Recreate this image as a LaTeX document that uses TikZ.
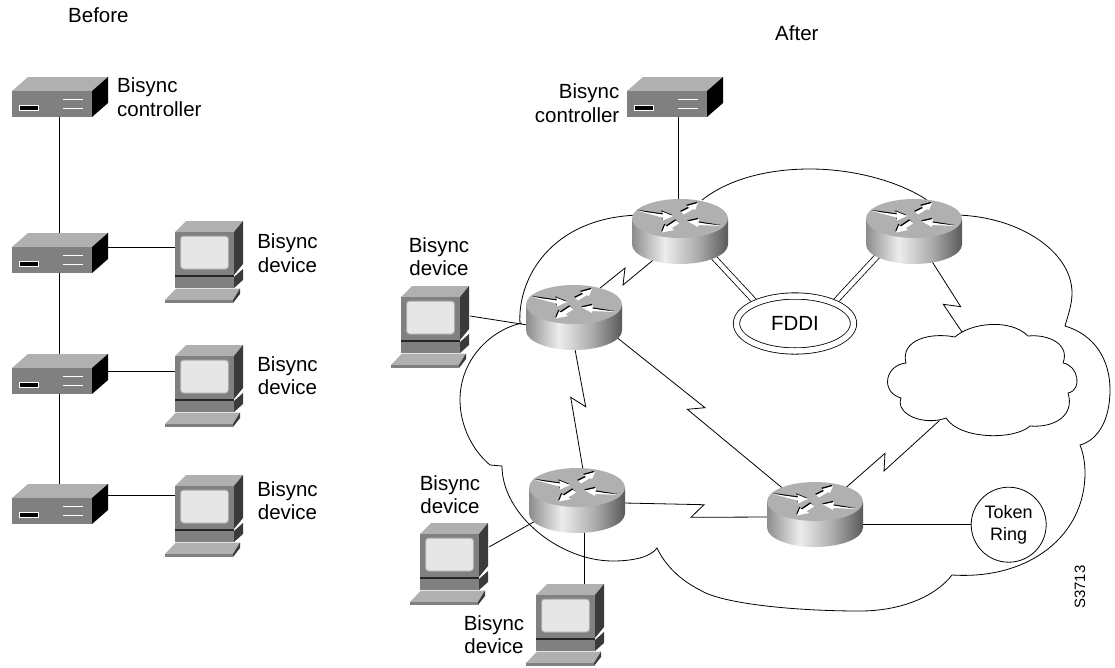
\documentclass[tikz,border=0pt]{standalone}
\usepackage{fontspec}
\usepackage{xcolor}
\usetikzlibrary{calc}
\usetikzlibrary{shapes.geometric}
\setmainfont{Liberation Sans}
\definecolor{boxtop}{HTML}{B0B0B0}
\definecolor{boxfront}{HTML}{808080}
\definecolor{boxdark}{HTML}{3A3A3A}
\definecolor{screenface}{HTML}{E6E6E6}
\definecolor{screenrim}{HTML}{A8A8A8}
\pgfdeclarehorizontalshading{routerside}{100bp}{rgb(0bp)=(.55,.55,.55);rgb(25bp)=(.55,.55,.55);rgb(42bp)=(.93,.93,.93);rgb(60bp)=(.66,.66,.66);rgb(75bp)=(.35,.35,.35);rgb(100bp)=(.35,.35,.35)}
\pgfdeclarelayer{wires}
\pgfsetlayers{wires,main}
\newcommand{\routerarrow}[1]{
        \fill[black, shift={(-.8,-1.2)}] #1;
        \fill[white] #1;
}
\tikzset{
        wire/.style={line width=.8pt},
        devlabel/.style={inner sep=0pt, align=center, anchor=north, font=\fontsize{20.5}{23.5}\selectfont},
        ctrllabel/.style={inner sep=0pt, font=\fontsize{20.5}{24.5}\selectfont},
        ctrlhub/.pic={
                \fill[boxtop] (0,14)--(16,0)--(96,0)--(80,14)--cycle;
                \fill[boxfront] (0,14) rectangle (80,40);
                \fill[black] (80,14)--(96,0)--(96,26)--(80,40)--cycle;
                \draw[white, fill=black, line width=.6pt] (7,28) rectangle (26,33);
                \draw[white, line width=.6pt] (51,22)--(71,22) (51,31)--(71,31);
                \coordinate (-n) at (47,0);
                \coordinate (-s) at (47,40);
                \coordinate (-e) at (96,14);
        },
        terminal/.pic={
                \fill[boxtop] (10,11)--(21,0)--(78,0)--(69,11)--cycle;
                \fill[boxfront] (10,11) rectangle (69,54);
                \fill[boxdark] (69,11)--(78,0)--(78,43)--(69,54)--cycle;
                \draw[screenrim, fill=screenface, line width=1pt, rounded corners=3pt] (15.5,15) rectangle (63.5,48);
                \fill[black!85] (10,54) rectangle (69,56);
                \fill[boxfront] (10,56) rectangle (69,67);
                \fill[boxdark] (69,56)--(78,48)--(78,59)--(69,67)--cycle;
                \fill[boxtop] (0,79)--(11,67.5)--(75,67.5)--(68,79)--cycle;
                \fill[boxfront] (0,79) rectangle (68,82);
                \fill[boxdark] (68,79)--(75,67.5)--(75,73)--(68,82)--cycle;
                \coordinate (-w) at (10,26.5);
                \coordinate (-e) at (79,24);
                \coordinate (-n) at (58,0);
        },
        router/.pic={
                \shade[shading=routerside] (0,19.5)--(0,45.5) arc (180:360:48pt and 19.5pt)--(96,19.5)--cycle;
                \fill[boxtop] (48,19.5) ellipse [x radius=48pt, y radius=19.5pt];
                \routerarrow{(6,12)--(31,15.5)--(30,12.5)--(41,17)--(31,21.5)--(30.5,18.5)--cycle}
                \routerarrow{(89,27)--(66.5,23.5)--(67,20)--(56,22.5)--(66,28)--(66,26)--cycle}
                \routerarrow{(49,13)--(57,9)--(55,7)--(66,4)--(63,11)--(61,10)--(52,15.5)--cycle}
                \routerarrow{(44,21.5)--(47,24.5)--(40,29)--(42,31)--(30,33.5)--(33,26)--(35,27.5)--cycle}
                \node[ellipse, inner sep=0pt, minimum width=96pt, minimum height=65pt] (-body) at (48,32.5) {};
        }
}
\begin{document}
\begin{tikzpicture}[x=1pt, y=-1pt, line join=round]
        \useasboundingbox (0,0) rectangle (1115,667);

        \foreach \i/\x/\y in {h1/12/77, h2/12/233, h3/12/354, h4/12/484, hc/627/77}
        \pic (\i) at (\x,\y) {ctrlhub};
        \foreach \i/\x/\y in {pc1/165/221, pc2/165/345, pc3/165/475, pc4/391/286, pc5/410/523, pc6/526/584}
        \pic (\i) at (\x,\y) {terminal};
        \foreach \i/\x/\y in {r1/526/285, r2/632/199, r3/866/199, r4/529/468, r5/767/482}
        \pic (\i) at (\x,\y) {router};

        \node[ellipse, draw, fill=white, line width=.8pt, double, double distance=5.5pt, inner sep=0pt, minimum width=117pt, minimum height=55pt, font=\fontsize{20.5}{24.5}\selectfont] (fddi) at (795,323.5) {FDDI};
        \node[circle, draw, line width=.8pt, inner sep=0pt, minimum size=75pt, align=center, font=\fontsize{18}{22}\selectfont] (ring) at (1008.7,524.7) {Token\\Ring};

        \node[inner sep=0pt, anchor=base west, font=\fontsize{20.5}{24.5}\selectfont] (before) at (68,22.7) {Before};
        \node[inner sep=0pt, anchor=base west, font=\fontsize{20.5}{24.5}\selectfont] (after) at (775,40.7) {After};
        \node[ctrllabel, anchor=north west, align=left] (ctrlA) at (117,77) {Bisync\\controller};
        \node[ctrllabel, anchor=north east, align=right] (ctrlB) at (619.5,83) {Bisync\\controller};
        \node[devlabel] (dev1) at (287.5,233.5) {Bisync\\device};
        \node[devlabel] (dev2) at (287.5,356) {Bisync\\device};
        \node[devlabel] (dev3) at (287.5,481) {Bisync\\device};
        \node[devlabel] (dev4) at (439,237) {Bisync\\device};
        \node[devlabel] (dev5) at (450,475) {Bisync\\device};
        \node[devlabel] (dev6) at (494,615) {Bisync\\device};
        \node[inner sep=0pt, rotate=90, font=\fontsize{15}{18}\selectfont] (code) at (1080,587) {S3713};

        \coordinate (cloudn) at (962,332);
        \coordinate (clouds) at (939.3,420.7);
        \coordinate (hclink) at (678,117);

        \begin{pgfonlayer}{wires}
        \draw[wire] (702,200) .. controls (730,178) and (770,169) .. (810,169) .. controls (855,169) and (900,182) .. (927,200);
        \draw[wire] (950,215) .. controls (1015,214) and (1072,250) .. (1072,293) .. controls (1072,305) and (1068,315) .. (1065,326)
                .. controls (1095,335) and (1110,360) .. (1110,390) .. controls (1110,420) and (1098,440) .. (1080,445)
                .. controls (1084,455) and (1085,465) .. (1085,473) .. controls (1085,535) and (1030,580) .. (952,575)
                .. controls (935,597) and (900,611) .. (860,611) .. controls (790,611) and (720,603) .. (700,590)
                .. controls (680,580) and (665,565) .. (657,548) .. controls (650,558) and (630,561) .. (613,561)
                .. controls (560,561) and (502,515) .. (502,466) -- (490,465)
                .. controls (472,450) and (460,425) .. (460,400) .. controls (460,360) and (490,330) .. (522,323);
        \draw[wire] (520,324) .. controls (517,280) and (550,217) .. (640,215);
        \draw[wire] (955,337) .. controls (970,323) and (1010,318) .. (1028,336)
                .. controls (1050,334) and (1070,345) .. (1063,363)
                .. controls (1078,365) and (1083,390) .. (1068,393)
                .. controls (1075,415) and (1055,428) .. (1030,426)
                .. controls (1015,440) and (960,440) .. (946,418)
                .. controls (925,426) and (895,415) .. (901,398)
                .. controls (880,392) and (885,365) .. (906,363)
                .. controls (900,340) and (930,332) .. (955,337) -- cycle;

        \draw[wire] (h1-s)--(h2-n);
        \draw[wire] (h2-s)--(h3-n);
        \draw[wire] (h3-s)--(h4-n);
        \draw[wire] (pc1-w)--(pc1-w -| h2-e);
        \draw[wire] (pc2-w)--(pc2-w -| h3-e);
        \draw[wire] ([yshift=6pt]pc3-w)--([yshift=6pt]pc3-w -| h4-e);

        \draw[wire] (hclink)--(hclink |- r2-body.north);
        \draw[wire] (r2-body.-133)--(623,285)--(625,268)--(r1-body.49);
        \draw[wire] (r1-body.-24)--(705,407.7)--(687.3,409.3)--(r5-body.141);
        \draw[wire] (r1-body.-88)--(585.7,406.7)--(570.7,397.3)--(r4-body.80);
        \draw[wire] (r4-body.-3)--(704,504.7)--(691,517.3)--(r5-body.183);
        \draw[wire] (r5-body.41)--(885,453.3)--(884,471)--(clouds);
        \draw[wire] (r3-body.-59)--(960.7,306.7)--(943.3,304.3)--(cloudn);
        \draw[wire] (r5-body.center |- ring.west)--(ring.west);
        \draw[wire] ([yshift=-6pt]pc4-e)--(r1-body.-171);
        \draw[wire] (pc5-e)--(r4-body.-154);
        \draw[wire] (pc6-n)--(pc6-n |- r4-body.center);
        \draw[wire, double, double distance=4.5pt] (r2-body.-37)--(fddi.152);
        \draw[wire, double, double distance=4.5pt] (r3-body.-147)--(fddi.28);
        \end{pgfonlayer}
\end{tikzpicture}
\end{document}
